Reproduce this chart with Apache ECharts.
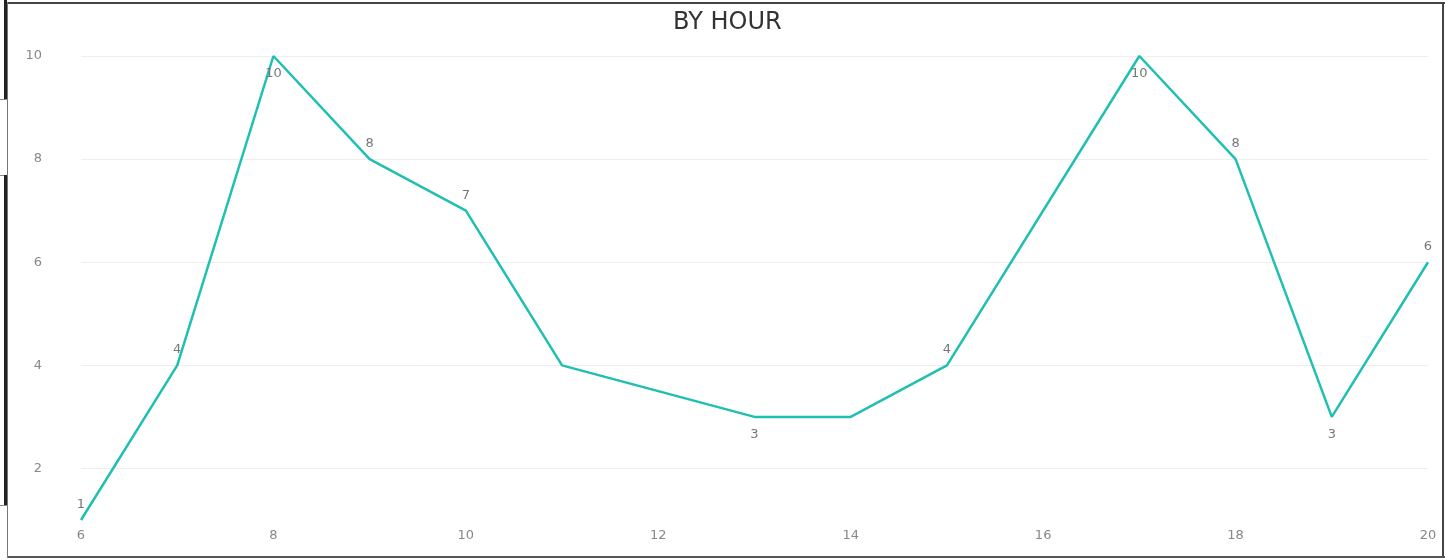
<!DOCTYPE html>
<html>
<head>
<meta charset="utf-8">
<script src="https://cdn.jsdelivr.net/npm/echarts@6/dist/echarts.min.js"></script>
<style>
  html, body { margin:0; padding:0; background:#fff; }
  #wrap { position:relative; width:1445px; height:560px; overflow:hidden; }
  #chart { position:absolute; left:0; top:0; width:1445px; height:560px; }
  .b { position:absolute; }
</style>
</head>
<body>
<div id="wrap">
  <div id="chart"></div>
  <div class="b" style="left:8px;top:2px;width:1437px;height:2px;background:#444;"></div>
  <div class="b" style="left:1442px;top:2px;width:2px;height:556px;background:#444;"></div>
  <div class="b" style="left:8px;top:556px;width:1437px;height:2px;background:#555;"></div>
  <div class="b" style="left:7px;top:2px;width:1px;height:556px;background:#777;"></div>
  <div class="b" style="left:4px;top:0px;width:3px;height:100px;background:#222;"></div>
  <div class="b" style="left:0px;top:99px;width:8px;height:1px;background:#888;"></div>
  <div class="b" style="left:0px;top:175px;width:8px;height:1px;background:#888;"></div>
  <div class="b" style="left:4px;top:175px;width:3px;height:331px;background:#222;"></div>
  <div class="b" style="left:0px;top:505px;width:8px;height:1px;background:#888;"></div>
</div>
<script>
const titleText = 'BY HOUR';
const hours  = [6, 7, 8, 9, 10, 11, 13, 14, 15, 17, 18, 19, 20];
const counts = [1, 4, 10, 8, 7, 4, 3, 3, 4, 10, 8, 3, 6];
const hiddenLabelHours = [11, 14];
const yTicks = [2, 4, 6, 8, 10];
const xTicks = [6, 8, 10, 12, 14, 16, 18, 20];

const maxV = Math.max.apply(null, counts);
const seriesData = hours.map(function (h, i) {
  const v = counts[i];
  const prev = i > 0 ? counts[i - 1] : null;
  const next = i < counts.length - 1 ? counts[i + 1] : Infinity;
  const below = v === maxV || (prev !== null && v < prev && v <= next);
  return {
    value: [h, v],
    label: {
      show: hiddenLabelHours.indexOf(h) < 0,
      position: below ? 'bottom' : 'top',
      distance: below ? 10 : 8
    }
  };
});

const labelFont = 'DejaVu Sans';
const chart = echarts.init(document.getElementById('chart'), null, { renderer: 'canvas' });
chart.setOption({
  animation: false,
  title: {
    text: titleText,
    left: 668,
    top: 6,
    textStyle: { fontFamily: 'DejaVu Sans', fontSize: 24, fontWeight: 'normal', color: '#333' }
  },
  grid: { left: 81, right: 17, top: 56, bottom: 40, containLabel: false },
  xAxis: {
    type: 'value',
    min: 6, max: 20,
    axisLine: { show: false },
    axisTick: { show: false },
    splitLine: { show: false },
    axisLabel: {
      customValues: xTicks,
      margin: 9,
      color: '#888', fontSize: 13, fontFamily: labelFont
    }
  },
  yAxis: {
    type: 'value',
    min: 1, max: 10,
    axisLine: { show: false },
    axisTick: { show: false },
    splitLine: { show: false },
    axisLabel: {
      customValues: yTicks,
      margin: 39,
      color: '#888', fontSize: 13, fontFamily: labelFont
    }
  },
  series: [{
    type: 'line',
    data: seriesData,
    showSymbol: true,
    symbol: 'circle',
    symbolSize: 2,
    itemStyle: { color: 'rgba(0,0,0,0)', borderWidth: 0 },
    lineStyle: { color: '#1fbfb1', width: 2.5 },
    label: { show: true, color: '#777', fontSize: 13, fontFamily: labelFont },
    labelLayout: { hideOverlap: false },
    markLine: {
      silent: true,
      symbol: ['none', 'none'],
      label: { show: false },
      lineStyle: { color: '#eeeeee', width: 1, type: 'solid' },
      data: yTicks.map(function (t) { return { yAxis: t }; }),
      z: 0
    },
    z: 3
  }]
});
</script>
</body>
</html>
